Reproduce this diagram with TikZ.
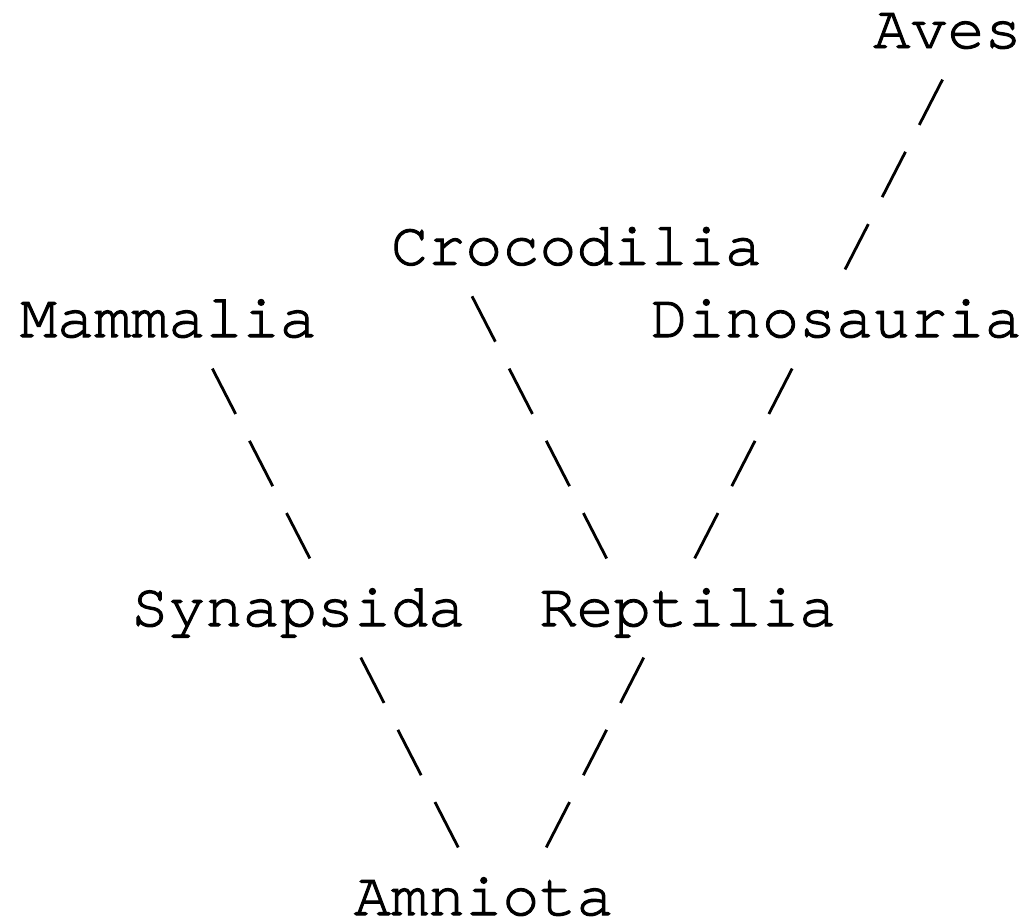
\documentclass[tikz,border=0pt]{standalone}
\usepackage{fontspec}
\newfontfamily\cursorfont[FakeBold=1.6]{TeX Gyre Cursor}
\usetikzlibrary{calc}
\begin{document}
\begin{tikzpicture}[x=1pt,y=-1pt,
  taxon/.style={inner sep=0pt, outer sep=0pt, anchor=base west,
    font=\cursorfont\fontsize{61.83}{72}\selectfont, text=black},
  branch/.style={line width=2.8pt, black, dash pattern=on 51pt off 30.22pt}]
\useasboundingbox[fill=white] (0,0) rectangle (1027,921);
% text nodes (ASCII grid: cell width 37.1, line height 72.25)
\node[taxon] (aves) at (873.3,48)    {Aves};
\node[taxon] (croc) at (391,264.75)  {Crocodilia};
\node[taxon] (mam)  at (20,337)      {Mammalia};
\node[taxon] (dino) at (650.7,337)   {Dinosauria};
\node[taxon] (syn)  at (131.3,626)   {Synapsida};
\node[taxon] (rep)  at (539.4,626)   {Reptilia};
\node[taxon] (amn)  at (353.9,915)   {Amniota};
% connectors
\draw[branch] ($(mam.base west)+(192.35,31.57)$)  -- ($(syn.base west)+(178.55,-67.57)$);
\draw[branch] ($(syn.base west)+(229.45,31.57)$)  -- ($(amn.base west)+(104.35,-67.57)$);
\draw[branch] ($(croc.base west)+(81.05,31.57)$)  -- ($(rep.base west)+(67.25,-67.57)$);
\draw[branch] ($(dino.base west)+(141.45,31.57)$) -- ($(rep.base west)+(155.25,-67.57)$);
\draw[branch] ($(rep.base west)+(104.35,31.57)$)  -- ($(amn.base west)+(192.35,-67.57)$);
\draw[branch] ($(aves.base west)+(69.25,31.57)$)  -- ($(dino.base west)+(194.35,-67.57)$);
\end{tikzpicture}
\end{document}
